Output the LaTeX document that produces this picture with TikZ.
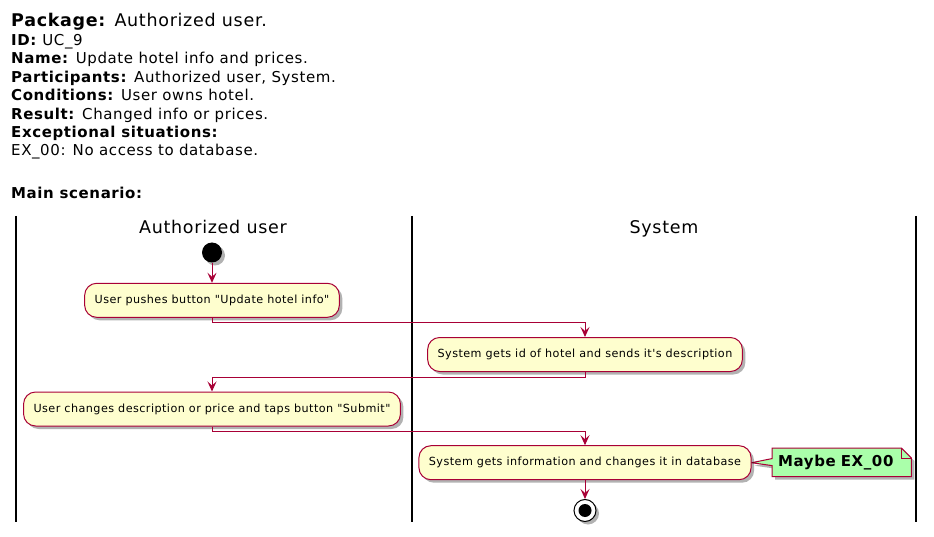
\documentclass[tikz,border=0pt]{standalone}
\usepackage{fontspec}
\setmainfont{DejaVu Sans}[LetterSpace=4, Ligatures=TeXOff]
\usetikzlibrary{arrows.meta,shadows,backgrounds}
\definecolor{umlred}{HTML}{A80036}
\definecolor{umlbox}{HTML}{FEFECE}
\definecolor{umlnote}{HTML}{AAFFAA}
\tikzset{
  info/.style={anchor=base west, inner sep=0pt, font=\fontsize{15}{17}\selectfont},
  lanetitle/.style={anchor=base, inner sep=0pt, font=\fontsize{17.5}{19}\selectfont},
  lane/.style={line width=1.6pt},
  umlshadow/.style={drop shadow={shadow xshift=3pt, shadow yshift=-3pt, opacity=0.3, fill=black}},
  act/.style={draw=umlred, fill=umlbox, line width=1pt, rounded corners=12pt, minimum height=34pt, inner xsep=10pt, font=\fontsize{11.2}{13}\selectfont, umlshadow},
  flow/.style={draw=umlred, line width=1pt, -{Stealth[length=10pt, width=9pt, inset=4pt]}},
  startdot/.style={circle, fill=black, minimum size=20pt, inner sep=0pt, umlshadow},
  stopdot/.style={circle, draw=black, fill=white, line width=1pt, minimum size=22pt, inner sep=0pt, umlshadow},
  notetext/.style={anchor=west, inner xsep=6pt, inner ysep=0pt, minimum height=28pt, text width=127pt, align=left, font=\fontsize{15}{17}\selectfont\bfseries},
  notedraw/.style={draw=umlred, fill=umlnote, line width=1pt}
}
\begin{document}
\begin{tikzpicture}[x=1pt, y=-1pt]
 \useasboundingbox (0,0) rectangle (934,537);

 \node[info] (pkg) at (11,27) {\fontsize{17.5}{19}\selectfont\textbf{Package:} Authorized user.};
 \node[info] (id) at (11,45.7) {\textbf{ID:} UC\_9};
 \node[info] (name) at (11,64) {\textbf{Name:} Update hotel info and prices.};
 \node[info] (part) at (11,82.4) {\textbf{Participants:} Authorized user, System.};
 \node[info] (cond) at (11,100.8) {\textbf{Conditions:} User owns hotel.};
 \node[info] (res) at (11,119.2) {\textbf{Result:} Changed info or prices.};
 \node[info] (exc) at (11,137.6) {\textbf{Exceptional situations:}};
 \node[info] (ex) at (11,156) {EX\_00: No access to database.};
 \node[info] (main) at (11,199) {\textbf{Main scenario:}};

 \draw[lane] (16,216) -- (16,522);
 \draw[lane] (412,216) -- (412,522);
 \draw[lane] (916,216) -- (916,522);
 \node[lanetitle] (laneuser) at (213,234) {Authorized user};
 \node[lanetitle] (lanesys) at (664,234) {System};

 \node[startdot] (start) at (212,252.5) {};
 \node[act] (b1) at (212,300.3) {User pushes button "Update hotel info"};
 \node[act] (b2) at (585,354.5) {System gets id of hotel and sends it's description};
 \node[act] (b3) at (212,409) {User changes description or price and taps button "Submit"};
 \node[act] (b4) at (585,462.7) {System gets information and changes it in database};
 \node[stopdot] (stop) at (585,510.5) {};
 \fill (stop) circle (6.5pt);

 \draw[flow] (start) -- (b1);
 \draw[flow] (b1.south) -- ++(0,5) -| (b2.north);
 \draw[flow] (b2.south) -- ++(0,5) -| (b3.north);
 \draw[flow] (b3.south) -- ++(0,5) -| (b4.north);
 \draw[flow] (b4) -- (stop);

 \node[notetext] (note) at (772,462.3) {Maybe EX\_00};
 \begin{scope}[on background layer]
  \draw[notedraw, umlshadow] (note.north west) -- ([xshift=-10pt]note.north east) -- ([yshift=-10pt]note.north east) -- (note.south east) -- (note.south west) -- ([yshift=-3.3pt]note.west) -- (b4.east) -- ([yshift=3.7pt]note.west) -- cycle;
  \draw[umlred, line width=1pt] ([xshift=-10pt]note.north east) -- ([xshift=-10pt, yshift=-10pt]note.north east) -- ([yshift=-10pt]note.north east);
 \end{scope}
\end{tikzpicture}
\end{document}
